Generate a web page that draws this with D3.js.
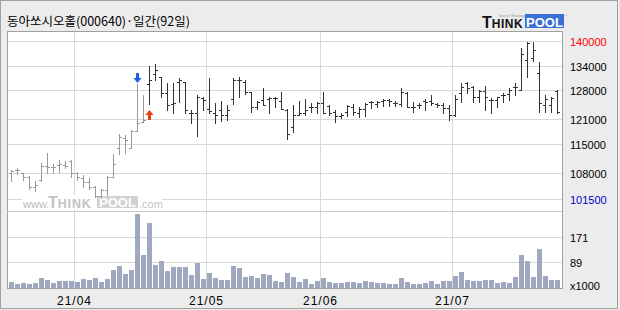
<!DOCTYPE html>
<html>
<head>
<meta charset="utf-8">
<script src="https://cdn.jsdelivr.net/npm/d3@7"></script>
<style>
  body { margin: 0; background: #fff; }
  svg text { font-family: "Liberation Sans", Arial, sans-serif; }
</style>
</head>
<body>
<svg id="chart"></svg>
<script>
// daily bars, 2021-03-17 .. 2021-07-26 (92 trading days)
const openP = [107800,108600,107800,107000,104600,106200,109600,109300,109800,109800,
  110900,108000,106600,105800,104600,102300,103800,107000,113900,116300,
  114100,118100,120400,129500,132000,131200,127400,124800,130100,130100,
  122600,122600,126100,123400,122600,123200,122000,125800,130500,130100,
  127700,124000,125700,125800,126100,125500,123200,119000,122000,122400,
  123900,123900,125000,124200,122800,121800,122800,124000,122600,123400,
  125200,124800,125500,125700,125000,124800,127400,123900,124400,125500,
  125500,124800,124400,123600,122000,127400,129900,128900,126500,127900,
  125700,125700,126900,127100,128700,128100,135400,135800,132300,124400,
  124400,127900];
const highP = [108600,109100,108000,107200,106000,110400,112800,110200,111100,110700,
  111100,108200,107400,106600,104700,103900,107200,112500,117500,117100,
  118400,129500,126900,133900,134400,131300,129900,129700,130900,130100,
  123200,126900,126500,130900,125000,125500,124400,130900,131300,130500,
  127700,125500,128500,126500,126300,127700,123400,124400,125500,125800,
  125000,125200,127700,124400,123100,122400,124400,124700,124000,125000,
  125500,125500,125800,125800,125500,128500,127700,125200,125000,125800,
  126900,125000,125000,124400,126900,129900,130100,129100,128100,129100,
  126100,126300,127300,128500,129900,138200,139800,139800,135000,126900,
  126500,128100];
const lowP = [106000,107700,106200,103900,103600,106000,108000,108000,108200,109000,
  107000,106200,104600,103900,102000,101700,102500,107000,112500,112700,
  113900,118100,120400,124800,130500,126500,123200,122400,125200,122400,
  120000,116900,123200,122600,120000,120600,120900,124800,126500,127100,
  122800,123400,124400,122400,123900,123400,116100,117900,122000,122000,
  122800,122400,122600,122000,120400,121200,121800,122000,121400,121800,
  123600,123900,124200,124200,124200,124200,123900,122800,123600,123200,
  124400,123900,122400,120900,121800,125200,127400,125200,125200,123200,
  122400,123900,125200,125700,126900,128100,131300,135200,122800,122800,
  122800,122400];
const closeP = [108500,108600,107000,104600,105000,109600,109300,109400,110100,109600,
  108000,107000,105800,104600,102300,103800,107000,110100,116600,115900,
  118200,120000,120800,130500,132900,127400,124400,125000,130400,123100,
  122400,126500,125700,122900,122000,122000,123200,130500,130400,127700,
  123900,125200,124400,126100,126100,123400,117500,122000,122400,123200,
  123900,125000,122600,122400,121800,122000,124200,122800,123400,124800,
  125200,125200,125700,125500,125000,127700,124000,124000,124400,125200,
  125000,124400,123600,122000,125800,128900,128500,126500,127900,126300,
  125700,126300,126900,128100,128900,136800,139400,137800,125000,125800,
  126100,122800];
// volume, thousands of shares
const volume = [21,15,18,15,18,34,27,18,25,22, 25,21,30,28,34,21,31,62,74,48,
  62,249,111,218,78,91,57,71,71,71, 45,85,30,51,34,27,27,74,67,38,
  40,34,47,45,25,21,51,38,21,30, 15,25,34,21,18,18,21,21,18,25,
  21,18,18,15,15,34,21,15,15,18, 25,15,25,25,41,55,28,25,25,28,
  28,18,21,18,38,112,92,38,131,41, 27,27];

const priceTicks = [140000, 134000, 128000, 121000, 115000, 108000, 101500];
const volTicks = [171, 89];
const monthStart = [11, 33, 52, 74];
const monthLabels = ["21/04", "21/05", "21/06", "21/07"];
const signals = [{ i: 21, type: "sell" }, { i: 23, type: "buy" }];
const grayUntil = 22; // bars before the buy signal drawn in gray

const svgWidth = 620, svgHeight = 310;
const plot = { left: 7, right: 562, top: 31, mid: 211, bottom: 288 };

const svg = d3.select("#chart")
  .attr("width", svgWidth)
  .attr("height", svgHeight);

const xScale = d3.scaleBand().domain(d3.range(openP.length)).range([8, 560]);
const yScale = d3.scaleLinear().domain([98660, 142430]).range([plot.mid, plot.top]);
const vScale = d3.scaleLinear().domain([0, 257]).range([plot.bottom, plot.mid + 0.5]);
const cx = i => xScale(i) + 3.5;
const crisp = v => Math.round(v) + 0.5;

// background and frame
svg.append("rect").attr("width", svgWidth).attr("height", svgHeight).attr("fill", "#ececec");
svg.append("rect").attr("x", 0.5).attr("y", 0.5).attr("width", 617).attr("height", 308)
  .attr("fill", "none").attr("stroke", "#a0a0a0");
svg.append("rect")
  .attr("x", plot.left).attr("y", plot.top)
  .attr("width", plot.right - plot.left).attr("height", plot.bottom - plot.top)
  .attr("fill", "#fff");

// grid
const grid = svg.append("g").attr("stroke", "#d9d9d9").attr("stroke-width", 1);
grid.selectAll(".hp").data(priceTicks).enter().append("line")
  .attr("x1", plot.left).attr("x2", plot.right)
  .attr("y1", d => crisp(yScale(d))).attr("y2", d => crisp(yScale(d)));
grid.selectAll(".hv").data(volTicks).enter().append("line")
  .attr("x1", plot.left).attr("x2", plot.right)
  .attr("y1", d => crisp(vScale(d))).attr("y2", d => crisp(vScale(d)));
grid.selectAll(".vm").data(monthStart).enter().append("line")
  .attr("x1", d => xScale(d) + 0.5).attr("x2", d => xScale(d) + 0.5)
  .attr("y1", plot.top).attr("y2", plot.bottom);

// watermark
const wm = svg.append("g");
wm.append("rect").attr("x", 22).attr("y", 195).attr("width", 140).attr("height", 15).attr("fill", "#fff");
wm.append("text").attr("x", 23).attr("y", 208).attr("font-size", 11).attr("fill", "#bdbdbd").text("www.");
const wmT = wm.append("text").attr("x", 48).attr("y", 208).attr("font-weight", "bold").attr("fill", "#c2c2c2");
wmT.append("tspan").attr("font-size", 16).text("T");
wmT.append("tspan").attr("font-size", 12.5).attr("letter-spacing", 0.8).text("HINK");
wm.append("rect").attr("x", 97).attr("y", 196).attr("width", 41).attr("height", 12).attr("fill", "#d2d2d2");
wm.append("text").attr("x", 117.5).attr("y", 207).attr("text-anchor", "middle")
  .attr("font-size", 13).attr("font-weight", "bold").attr("fill", "#fff").text("POOL");
wm.append("text").attr("x", 139).attr("y", 208).attr("font-size", 11).attr("fill", "#c4c4c4").text(".com");

// volume bars
svg.append("g").selectAll("rect").data(volume).enter().append("rect")
  .attr("x", (d, i) => xScale(i) + 1)
  .attr("width", xScale.bandwidth() - 1)
  .attr("y", d => Math.round(vScale(d)))
  .attr("height", d => plot.bottom - Math.round(vScale(d)))
  .attr("fill", "#a0a8bf");

// OHLC bars
const bars = svg.append("g").selectAll("g").data(openP).enter().append("g")
  .attr("stroke", (d, i) => i <= grayUntil ? "#999" : "#333")
  .attr("stroke-width", 1);
bars.append("line")
  .attr("x1", (d, i) => cx(i)).attr("x2", (d, i) => cx(i))
  .attr("y1", (d, i) => Math.round(yScale(highP[i])))
  .attr("y2", (d, i) => Math.round(yScale(lowP[i])) + 1);
bars.append("line")
  .attr("x1", (d, i) => cx(i) - 2.5).attr("x2", (d, i) => cx(i))
  .attr("y1", d => crisp(yScale(d))).attr("y2", d => crisp(yScale(d)));
bars.append("line")
  .attr("x1", (d, i) => cx(i)).attr("x2", (d, i) => cx(i) + 2.5)
  .attr("y1", (d, i) => crisp(yScale(closeP[i]))).attr("y2", (d, i) => crisp(yScale(closeP[i])));

// signal arrows
signals.forEach(s => {
  const x0 = cx(s.i);
  if (s.type === "sell") {
    const tip = Math.round(yScale(highP[s.i])) - 1;
    svg.append("path")
      .attr("d", `M${x0 - 1.5},${tip - 10}h3v5h2.5l-4,5l-4,-5h2.5z`)
      .attr("fill", "#1f5fe6");
  } else {
    const tip = Math.round(yScale(lowP[s.i])) + 6;
    svg.append("path")
      .attr("d", `M${x0},${tip}l4,5h-2.5v5h-3v-5h-2.5z`)
      .attr("fill", "#ea4212");
  }
});

// plot borders
const border = svg.append("g").attr("stroke", "#a0a0a0").attr("fill", "none");
border.append("rect")
  .attr("x", plot.left + 0.5).attr("y", plot.top + 0.5)
  .attr("width", plot.right - plot.left).attr("height", plot.bottom - plot.top);
border.append("line").attr("x1", plot.left).attr("x2", plot.right)
  .attr("y1", plot.mid + 0.5).attr("y2", plot.mid + 0.5).attr("stroke", "#c8c8c8");

// right labels
svg.append("g").selectAll("text").data(priceTicks).enter().append("text")
  .attr("x", 570).attr("y", d => yScale(d) + 5)
  .attr("font-size", 11)
  .attr("fill", (d, i) => i === 0 ? "#ff0000" : i === priceTicks.length - 1 ? "#0000c8" : "#000")
  .text(d => d);
svg.append("g").selectAll("text").data(volTicks).enter().append("text")
  .attr("x", 570).attr("y", d => vScale(d) + 5)
  .attr("font-size", 11).attr("fill", "#000")
  .text(d => d);
svg.append("text").attr("x", 570).attr("y", 290).attr("font-size", 11).text("x1000");

// month labels
svg.append("g").selectAll("text").data(monthStart).enter().append("text")
  .attr("x", d => xScale(d) + 0.5).attr("y", 305)
  .attr("text-anchor", "middle").attr("font-size", 12).attr("letter-spacing", 1)
  .text((d, i) => monthLabels[i]);

// title
svg.append("text").attr("x", 7).attr("y", 26)
  .style("font-family", '"Noto Sans CJK KR", sans-serif')
  .attr("font-size", 12.5).attr("fill", "#000")
  .text("동아쏘시오홀(000640)·일간(92일)");

// logo
const logo = svg.append("g");
logo.append("text").attr("x", 499).attr("y", 16.5).attr("font-size", 4).attr("fill", "#999").text("Invest Strategy");
const logoT = logo.append("text").attr("x", 482).attr("y", 27.5).attr("font-weight", "bold").attr("fill", "#111");
logoT.append("tspan").attr("font-size", 16).text("T");
logoT.append("tspan").attr("font-size", 12).attr("letter-spacing", 0.5).text("HINK");
logo.append("rect").attr("x", 525).attr("y", 14).attr("width", 39).attr("height", 14).attr("fill", "#3a6fd8");
logo.append("text").attr("x", 544.5).attr("y", 26.5).attr("text-anchor", "middle")
  .attr("font-size", 13).attr("font-weight", "bold").attr("fill", "#fff").text("POOL");
logo.append("text").attr("x", 565).attr("y", 17).attr("font-size", 4).attr("fill", "#aaa").text("®");
</script>
</body>
</html>
